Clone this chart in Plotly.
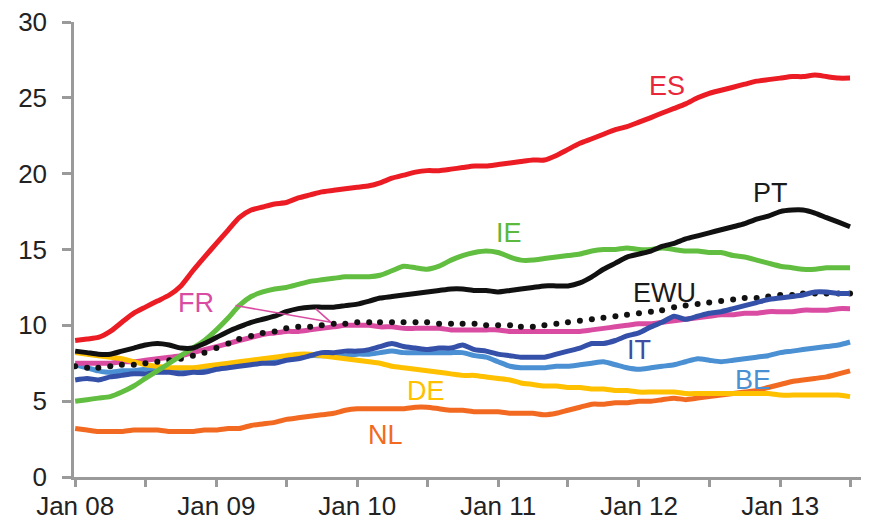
import pandas as pd
import plotly.graph_objects as go

months = pd.date_range("2008-01-01", periods=67, freq="MS")

ES = [9.0, 9.1, 9.2, 9.6, 10.2, 10.8, 11.2, 11.6, 12.0, 12.6, 13.6, 14.5, 15.4, 16.3, 17.1, 17.6, 17.8, 18.0,
      18.1, 18.4, 18.6, 18.8, 18.9, 19.0, 19.1, 19.2, 19.4, 19.7, 19.9, 20.1, 20.2, 20.2, 20.3, 20.4, 20.5, 20.5,
      20.6, 20.7, 20.8, 20.9, 20.9, 21.2, 21.6, 22.0, 22.3, 22.6, 22.9, 23.1, 23.4, 23.7, 24.0, 24.3, 24.6, 25.0,
      25.3, 25.5, 25.7, 25.9, 26.1, 26.2, 26.3, 26.4, 26.4, 26.5, 26.4, 26.3, 26.3]
PT = [8.3, 8.2, 8.1, 8.1, 8.3, 8.5, 8.7, 8.8, 8.7, 8.5, 8.5, 8.8, 9.2, 9.6, 9.9, 10.2, 10.4, 10.6,
      10.9, 11.1, 11.2, 11.2, 11.2, 11.3, 11.4, 11.6, 11.8, 11.9, 12.0, 12.1, 12.2, 12.3, 12.4, 12.4, 12.3, 12.3,
      12.2, 12.3, 12.4, 12.5, 12.6, 12.6, 12.6, 12.8, 13.2, 13.7, 14.1, 14.5, 14.7, 14.9, 15.2, 15.4, 15.7, 15.9,
      16.1, 16.3, 16.5, 16.7, 17.0, 17.2, 17.5, 17.6, 17.6, 17.4, 17.1, 16.8, 16.5]
IE = [5.0, 5.1, 5.2, 5.3, 5.6, 6.0, 6.5, 7.0, 7.5, 8.0, 8.5, 9.0, 9.7, 10.5, 11.3, 11.9, 12.2, 12.4,
      12.5, 12.7, 12.9, 13.0, 13.1, 13.2, 13.2, 13.2, 13.3, 13.6, 13.9, 13.8, 13.7, 13.9, 14.3, 14.6, 14.8, 14.9,
      14.8, 14.5, 14.3, 14.3, 14.4, 14.5, 14.6, 14.7, 14.9, 15.0, 15.0, 15.1, 15.0, 15.0, 15.1, 15.0, 14.9, 14.9,
      14.8, 14.8, 14.6, 14.5, 14.3, 14.1, 13.9, 13.8, 13.7, 13.7, 13.8, 13.8, 13.8]
EWU = [7.3, 7.2, 7.2, 7.3, 7.4, 7.4, 7.5, 7.6, 7.7, 7.8, 8.0, 8.2, 8.5, 8.8, 9.1, 9.3, 9.5, 9.6,
       9.8, 9.9, 9.9, 10.0, 10.1, 10.1, 10.2, 10.2, 10.2, 10.2, 10.2, 10.2, 10.2, 10.1, 10.1, 10.1, 10.1, 10.0,
       10.0, 10.0, 9.9, 9.9, 10.0, 10.1, 10.2, 10.3, 10.4, 10.5, 10.6, 10.7, 10.8, 10.9, 11.0, 11.2, 11.3, 11.4,
       11.5, 11.6, 11.7, 11.8, 11.8, 11.9, 12.0, 12.0, 12.1, 12.1, 12.1, 12.1, 12.1]
FR = [7.5, 7.5, 7.5, 7.5, 7.6, 7.6, 7.7, 7.8, 7.9, 8.0, 8.2, 8.4, 8.6, 8.8, 9.0, 9.2, 9.4, 9.5,
      9.6, 9.6, 9.7, 9.8, 9.9, 10.0, 10.0, 10.0, 9.9, 9.9, 9.8, 9.8, 9.8, 9.8, 9.7, 9.7, 9.7, 9.7,
      9.7, 9.6, 9.6, 9.6, 9.6, 9.6, 9.6, 9.6, 9.7, 9.8, 9.9, 10.0, 10.1, 10.1, 10.2, 10.3, 10.4, 10.5,
      10.6, 10.7, 10.7, 10.8, 10.8, 10.9, 10.9, 10.9, 11.0, 11.0, 11.0, 11.1, 11.1]
IT = [6.4, 6.5, 6.4, 6.6, 6.7, 6.8, 6.8, 6.9, 6.9, 6.8, 6.9, 6.9, 7.1, 7.2, 7.3, 7.4, 7.5, 7.5,
      7.7, 7.8, 8.0, 8.2, 8.2, 8.3, 8.3, 8.4, 8.6, 8.8, 8.6, 8.5, 8.4, 8.5, 8.5, 8.7, 8.4, 8.3,
      8.1, 8.0, 7.9, 7.9, 7.9, 8.1, 8.3, 8.5, 8.8, 8.8, 9.0, 9.3, 9.5, 9.9, 10.2, 10.6, 10.4, 10.6,
      10.8, 10.9, 11.1, 11.3, 11.5, 11.7, 11.8, 11.9, 12.0, 12.2, 12.2, 12.1, 12.1]
BE = [7.4, 7.2, 7.0, 6.9, 7.0, 7.0, 7.1, 7.1, 7.0, 7.0, 7.1, 7.2, 7.3, 7.4, 7.5, 7.6, 7.7, 7.7,
      7.8, 7.9, 8.0, 8.0, 8.0, 8.0, 8.1, 8.1, 8.2, 8.3, 8.2, 8.2, 8.2, 8.2, 8.2, 8.2, 8.0, 7.9,
      7.6, 7.3, 7.2, 7.2, 7.2, 7.3, 7.3, 7.4, 7.5, 7.6, 7.4, 7.2, 7.1, 7.2, 7.3, 7.4, 7.6, 7.8,
      7.7, 7.6, 7.7, 7.8, 7.9, 8.0, 8.2, 8.3, 8.4, 8.5, 8.6, 8.7, 8.9]
DE = [8.2, 8.1, 8.0, 7.9, 7.8, 7.6, 7.4, 7.3, 7.2, 7.2, 7.2, 7.3, 7.4, 7.5, 7.6, 7.7, 7.8, 7.9,
      8.0, 8.1, 8.1, 8.0, 7.9, 7.8, 7.7, 7.6, 7.5, 7.3, 7.2, 7.1, 7.0, 6.9, 6.8, 6.7, 6.7, 6.6,
      6.5, 6.4, 6.2, 6.1, 6.0, 6.0, 5.9, 5.9, 5.8, 5.8, 5.7, 5.7, 5.6, 5.6, 5.6, 5.6, 5.5, 5.5,
      5.5, 5.5, 5.5, 5.5, 5.5, 5.5, 5.4, 5.4, 5.4, 5.4, 5.4, 5.4, 5.3]
NL = [3.2, 3.1, 3.0, 3.0, 3.0, 3.1, 3.1, 3.1, 3.0, 3.0, 3.0, 3.1, 3.1, 3.2, 3.2, 3.4, 3.5, 3.6,
      3.8, 3.9, 4.0, 4.1, 4.2, 4.4, 4.5, 4.5, 4.5, 4.5, 4.5, 4.6, 4.6, 4.5, 4.4, 4.4, 4.3, 4.3,
      4.3, 4.2, 4.2, 4.2, 4.1, 4.2, 4.4, 4.6, 4.8, 4.8, 4.9, 4.9, 5.0, 5.0, 5.1, 5.2, 5.1, 5.2,
      5.3, 5.4, 5.5, 5.6, 5.7, 5.9, 6.1, 6.3, 6.4, 6.5, 6.6, 6.8, 7.0]

tick_dates = pd.date_range("2008-01-01", "2013-07-01", freq="6MS")
tick_text = ["Jan 08", "", "Jan 09", "", "Jan 10", "", "Jan 11", "", "Jan 12", "", "Jan 13", ""]
y_ticks = [0, 5, 10, 15, 20, 25, 30]

FONT = "Liberation Sans, Arial, sans-serif"

series = [
    ("NL", NL, "#F26A21"),
    ("BE", BE, "#4A90D2"),
    ("FR", FR, "#D94CA2"),
    ("DE", DE, "#FFC000"),
    ("EWU", EWU, "#111111"),
    ("IT", IT, "#3450A8"),
    ("IE", IE, "#62BE40"),
    ("PT", PT, "#111111"),
    ("ES", ES, "#EC1C24"),
]

fig = go.Figure()
for name, vals, col in series:
    if name == "EWU":
        fig.add_trace(go.Scatter(x=months, y=vals, mode="markers", name=name,
                                 marker=dict(size=6, color=col), showlegend=False))
    else:
        fig.add_trace(go.Scatter(x=months, y=vals, mode="lines", name=name,
                                 line=dict(color=col, width=5, shape="spline", smoothing=0.6),
                                 showlegend=False))

labels = [
    ("ES", "2012-03-13", 25.8, "#E8283A"),
    ("PT", "2012-12-07", 18.7, "#1a1a1a"),
    ("IE", "2011-01-28", 16.1, "#5DB83E"),
    ("EWU", "2012-03-07", 12.1, "#1a1a1a"),
    ("FR", "2008-11-10", 11.5, "#D94CA2"),
    ("IT", "2012-01-01", 8.4, "#3F4EA3"),
    ("BE", "2012-10-22", 6.4, "#4A90D2"),
    ("DE", "2010-06-28", 5.7, "#FFC000"),
    ("NL", "2010-03-16", 2.8, "#F26A21"),
]
for t, xd, yv, col in labels:
    fig.add_annotation(x=xd, y=yv, text=t, showarrow=False,
                       font=dict(family=FONT, size=27, color=col),
                       xanchor="center", yanchor="middle")

# FR pointer
fig.add_annotation(x="2009-10-25", y=10.2, text="", showarrow=True, arrowhead=0,
                   arrowwidth=1.6, arrowcolor="#D94CA2", ax=-97, ay=-17)
fig.add_annotation(x="2009-10-25", y=10.2, text="", showarrow=True, arrowhead=0,
                   arrowwidth=1.6, arrowcolor="#D94CA2", ax=-17, ay=-15)

# the page body adds an 8px offset, so the figure is sized to fit the window
fig.update_layout(
    width=861, height=514,
    margin=dict(l=66, r=7, t=14, b=45),
    plot_bgcolor="white", paper_bgcolor="white",
    font=dict(family=FONT, size=26, color="#222222"),
)
fig.update_xaxes(
    range=["2007-12-29", "2013-08-01"],
    tickmode="array", tickvals=tick_dates, ticktext=tick_text,
    showgrid=False, zeroline=False, automargin=False,
    showline=True, linecolor="#9a9a9a", linewidth=2.5,
    ticks="outside", ticklen=7, tickwidth=2.5, tickcolor="#9a9a9a",
    tickfont=dict(family=FONT, size=26, color="#222222"),
    ticklabelstandoff=-3, ticklabeloverflow="allow",
)
fig.update_yaxes(
    range=[0, 30],
    tickmode="array", tickvals=y_ticks,
    showgrid=False, zeroline=False, automargin=False,
    showline=True, linecolor="#9a9a9a", linewidth=2.5,
    ticks="outside", ticklen=9, tickwidth=2.5, tickcolor="#9a9a9a",
    tickfont=dict(family=FONT, size=26, color="#222222"),
    ticklabelstandoff=10, ticklabeloverflow="allow",
)

fig.write_html("out.html")
